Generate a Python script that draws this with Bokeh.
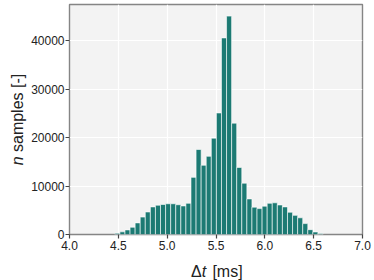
import numpy as np
from bokeh.plotting import figure
from bokeh.layouts import row, column
from bokeh.models import FixedTicker, CustomJSTickFormatter
from bokeh.core.properties import value
from bokeh.embed import file_html
from bokeh.resources import INLINE

# histogram data
bin_start = 4.464
bin_width = 0.052
counts = [250, 550, 950, 1500, 2400, 3600, 4650, 5700, 6050, 6200,
          6350, 6350, 6150, 5900, 6450, 11800, 17550, 14300, 16150, 19900,
          25100, 40600, 45100, 23000, 13850, 10600, 7350, 5650, 5350, 5850,
          6450, 6550, 6100, 5700, 4600, 3950, 3450, 2250, 1000, 520, 200]
x_ticks = [4.0, 4.5, 5.0, 5.5, 6.0, 6.5, 7.0]
y_ticks = [0, 10000, 20000, 30000, 40000]
x_range = (4.0, 7.0)
y_range = (0, 47500)

left = [bin_start + bin_width * i for i in range(len(counts))]
right = [l + bin_width for l in left]

FONT = "Liberation Sans"
TXT = "#222222"
LAB = "16px"

YL_W = 28          # width of the y-label strip
MAIN_W, MAIN_H = 374 - YL_W, 255
XL_H = 280 - MAIN_H
B_LEFT, B_RIGHT, B_TOP, B_BOTTOM = 38, 12, 4, 21

p = figure(width=MAIN_W, height=MAIN_H, x_range=x_range, y_range=y_range,
           output_backend="svg", toolbar_location=None,
           min_border_left=B_LEFT, min_border_right=B_RIGHT,
           min_border_top=B_TOP, min_border_bottom=B_BOTTOM)

p.quad(left=left, right=right, top=counts, bottom=0,
       fill_color="#1c7a73", line_color="white", line_width=0.6)

p.background_fill_color = "#f3f3f3"
p.outline_line_color = "#858585"
p.outline_line_width = 1.4
p.grid.grid_line_color = "white"
p.grid.grid_line_width = 1.2

p.xaxis.ticker = FixedTicker(ticks=x_ticks)
p.yaxis.ticker = FixedTicker(ticks=y_ticks)
for ax in (p.xaxis, p.yaxis):
    ax.axis_line_color = None
    ax.major_tick_out = 4
    ax.major_tick_in = 0
    ax.major_tick_line_color = "#444444"
    ax.major_tick_line_width = 1.2
    ax.minor_tick_line_color = None
    ax.major_label_text_font = FONT
    ax.major_label_text_font_size = "12px"
    ax.major_label_text_color = TXT
p.xaxis.major_label_standoff = 2
p.yaxis.major_label_standoff = 1
p.xaxis.formatter = CustomJSTickFormatter(code="return tick.toFixed(1);")
p.yaxis.formatter = CustomJSTickFormatter(code="return tick.toFixed(0);")


def strip(w, h, xr, yr, bl=0, br=0, bt=0, bb=0):
    f = figure(width=w, height=h, x_range=xr, y_range=yr,
               output_backend="svg", toolbar_location=None,
               x_axis_location=None, y_axis_location=None, min_border=0,
               min_border_left=bl, min_border_right=br,
               min_border_top=bt, min_border_bottom=bb)
    f.outline_line_color = None
    f.grid.grid_line_color = None
    f.background_fill_color = "white"
    f.border_fill_color = "white"
    return f


def put(f, x, y, text, style="normal", angle=0.0, dx=0.0, dy=0.0):
    f.text(x=[x], y=[y], text=[text], angle=angle, x_offset=dx, y_offset=dy,
           text_font=value(FONT), text_font_size=value(LAB),
           text_font_style=value(style), text_align="left",
           text_baseline="alphabetic", text_color=TXT)


# y label strip: "n samples [-]" with italic n, centred beside the frame
yl = strip(YL_W, 280, (0, YL_W), y_range, 0, 0, B_TOP, 280 - MAIN_H + B_BOTTOM)
yc = 0.5 * (y_range[0] + y_range[1])
put(yl, 17, yc, "n", "italic", np.pi / 2, dy=45.8)
put(yl, 17, yc, "samples [-]", "normal", np.pi / 2, dy=32.5)

# x label strip: "Δt [ms]" with italic t, centred under the frame
xl = strip(MAIN_W, XL_H, x_range, (0, XL_H), B_LEFT, B_RIGHT)
xc = 0.5 * (x_range[0] + x_range[1])
put(xl, xc, 9.5, "Δ", dx=-24.9)
put(xl, xc, 9.5, "t", "italic", dx=-14.2)
put(xl, xc, 9.5, "[ms]", dx=-3.6)

layout = row(yl, column(p, xl, spacing=0), spacing=0)

open("out.html", "w").write(file_html(layout, INLINE))
